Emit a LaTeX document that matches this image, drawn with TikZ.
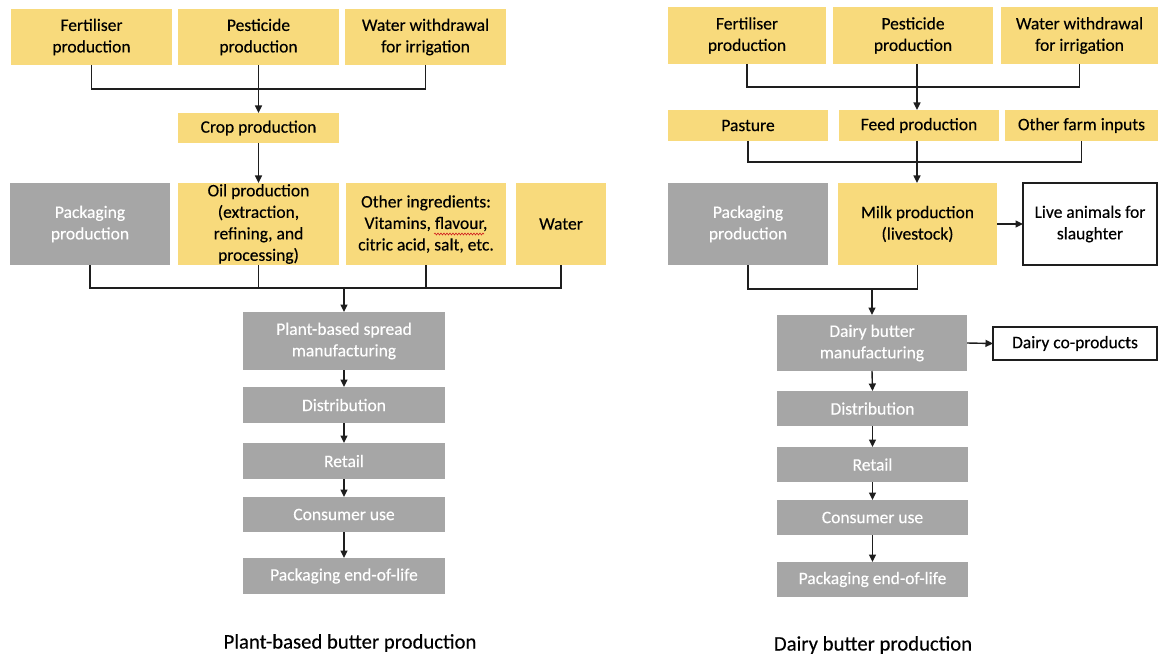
\documentclass[tikz,border=0pt]{standalone}
\usepackage{fontspec}
\setmainfont{Carlito}[FakeBold=0.3]
\usetikzlibrary{arrows.meta,decorations.pathmorphing,calc}
\definecolor{ygold}{HTML}{F8DA7C}
\definecolor{bgray}{HTML}{A6A6A6}
\definecolor{lnk}{HTML}{1E1E1E}
\definecolor{spell}{HTML}{D02020}
\newcommand\placebox[7]{\node[#1,minimum width={(#5-#3)*1pt},minimum height={(#6-#4)*1pt}] (#2) at ({(#3+#5)/2},{(#4+#6)/2}) {#7};}
\begin{document}
\begin{tikzpicture}[x=1pt,y=-1pt,
  base/.style={inner sep=0pt,outer sep=0pt,align=center,font=\fontsize{17.5}{21.5}\selectfont},
  ybox/.style={base,fill=ygold,text=black},
  gbox/.style={base,fill=bgray,text=white},
  wbox/.style={base,fill=white,draw=lnk,line width=1.3pt,text=black},
  conn/.style={draw=lnk,line width=1.4pt},
  arr/.style={conn,-{Triangle[length=7.5pt,width=7pt]}},
  wavy/.style={draw=spell,line width=0.6pt,decorate,decoration={snake,amplitude=1pt,segment length=3pt}},
  title/.style={font=\fontsize{20.7}{24}\selectfont,text=black}]
\path[use as bounding box] (0,0) rectangle (1158,655);

% ---------- left: plant-based ----------
\placebox{ybox}{lf1}{11}{9}{172}{65}{Fertiliser\\production}
\placebox{ybox}{lf2}{178}{9}{339}{65}{Pesticide\\production}
\placebox{ybox}{lf3}{345}{9}{506}{65}{Water withdrawal\\for irrigation}
\placebox{ybox}{lcrop}{178}{113}{339}{143}{Crop production}
\placebox{gbox}{lpack}{10}{183}{170}{265}{Packaging\\production}
\placebox{ybox}{loil}{178}{183}{339}{265}{Oil production\\(extraction,\\refining, and\\processing)}
\placebox{ybox}{lother}{346}{183}{506}{265}{Other ingredients:\\Vitamins, flavour,\\citric acid, salt, etc.}
\placebox{ybox}{lwater}{516}{183}{606}{265}{Water}
\placebox{gbox}{lspread}{243}{312}{445}{370}{Plant-based spread\\manufacturing}
\placebox{gbox}{ldist}{243}{387}{445}{423}{Distribution}
\placebox{gbox}{lretail}{243}{443}{445}{479}{Retail}
\placebox{gbox}{lcons}{243}{497}{445}{532}{Consumer use}
\placebox{gbox}{leol}{243}{558}{445}{594}{Packaging end-of-life}
\node[title] (ltitle) at (350,643) {Plant-based butter production};

\path[wavy] (434,234) -- (484,234);

\coordinate (lj1) at (258.5,89);
\draw[conn] (lf1.south) |- (lj1) -| (lf3.south);
\draw[arr] (lf2.south) -- (lcrop.north);
\draw[arr] (lcrop.south) -- (loil.north);
\coordinate (lj2) at (344,288);
\draw[conn] (lpack.south) |- (lj2) -| (lwater.south);
\draw[conn] (loil.south) -- (loil.south |- lj2);
\draw[conn] (lother.south) -- (lother.south |- lj2);
\draw[arr] (lj2) -- (lspread.north);
\draw[arr] (lspread.south) -- (ldist.north);
\draw[arr] (ldist.south) -- (lretail.north);
\draw[arr] (lretail.south) -- (lcons.north);
\draw[arr] (lcons.south) -- (leol.north);

% ---------- right: dairy ----------
\placebox{ybox}{rf1}{668}{7}{826}{64}{Fertiliser\\production}
\placebox{ybox}{rf2}{833}{7}{993}{64}{Pesticide\\production}
\placebox{ybox}{rf3}{1001}{7}{1158}{64}{Water withdrawal\\for irrigation}
\placebox{ybox}{rpast}{668}{110}{828}{141}{Pasture}
\placebox{ybox}{rfeed}{839}{110}{999}{141}{Feed production}
\placebox{ybox}{rother}{1005}{110}{1158}{141}{Other farm inputs}
\placebox{gbox}{rpack}{668}{183}{828}{265}{Packaging\\production}
\placebox{ybox}{rmilk}{838}{183}{997}{265}{Milk production\\(livestock)}
\placebox{wbox}{rlive}{1023}{183}{1157}{265}{Live animals for\\slaughter}
\placebox{gbox}{rbutter}{777}{315}{967}{371}{Dairy butter\\manufacturing}
\placebox{wbox}{rco}{993}{327}{1157}{360}{Dairy co-products}
\placebox{gbox}{rdist}{777}{391}{968}{426}{Distribution}
\placebox{gbox}{rretail}{777}{447}{968}{482}{Retail}
\placebox{gbox}{rcons}{777}{500}{968}{535}{Consumer use}
\placebox{gbox}{reol}{777}{562}{968}{597}{Packaging end-of-life}
\node[title] (rtitle) at (873,645) {Dairy butter production};

\coordinate (rj1) at (917,87);
\draw[conn] (rf1.south) |- (rj1) -| (rf3.south);
\draw[arr] (rf2.south -| rj1) -- (rfeed.north -| rj1);
\coordinate (rj2) at (917,162);
\draw[conn] (rpast.south) |- (rj2) -| (rother.south);
\draw[arr] (rfeed.south -| rj2) -- (rmilk.north -| rj2);
\coordinate (rj3) at (872,289);
\draw[conn] (rpack.south) |- (rj3) -| (rmilk.south);
\draw[arr] (rj3) -- (rbutter.north);
\draw[arr] (rmilk.east) -- (rlive.west);
\draw[arr] (rbutter.east) -- (rco.west);
\draw[arr] (rbutter.south) -- (rdist.north);
\draw[arr] (rdist.south) -- (rretail.north);
\draw[arr] (rretail.south) -- (rcons.north);
\draw[arr] (rcons.south) -- (reol.north);
\end{tikzpicture}
\end{document}
